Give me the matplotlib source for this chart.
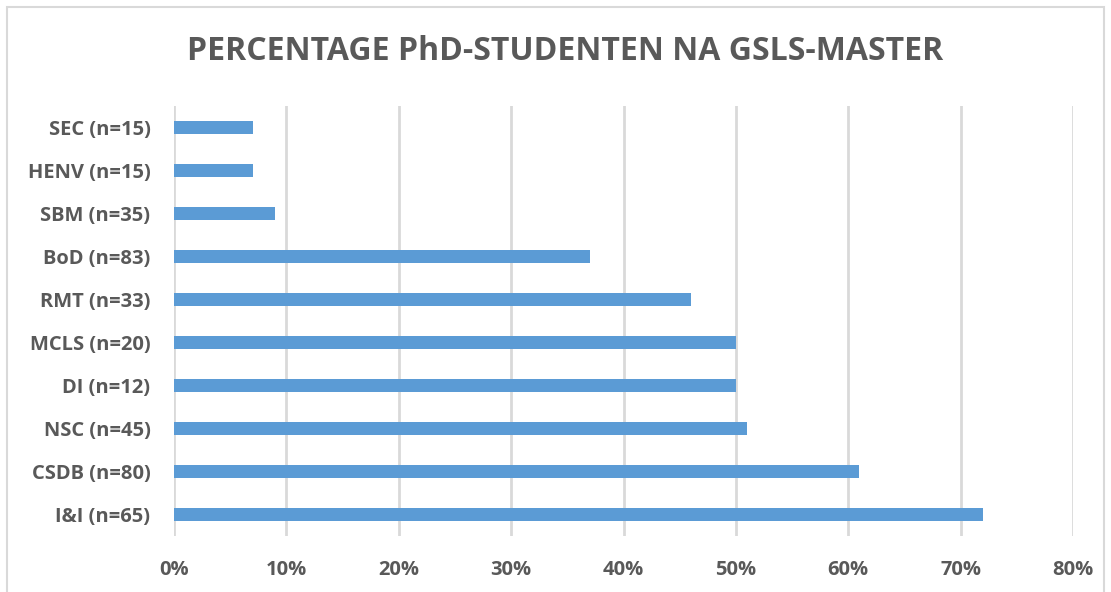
import matplotlib.pyplot as plt
from matplotlib.patches import Rectangle

# categories from bottom to top, values in percent
labels = ["I&I (n=65)", "CSDB (n=80)", "NSC (n=45)", "DI (n=12)", "MCLS (n=20)",
          "RMT (n=33)", "BoD (n=83)", "SBM (n=35)", "HENV (n=15)", "SEC (n=15)"]
values = [72, 61, 51, 50, 50, 46, 37, 9, 7, 7]
xticks = [0, 10, 20, 30, 40, 50, 60, 70, 80]

plt.rcParams['font.family'] = ['Open Sans', 'DejaVu Sans']
grey = '#595959'

fig = plt.figure(figsize=(11.11, 5.92), dpi=100)
W, H = 1111, 592
ax = fig.add_axes([174 / W, 1 - 536 / H, (1073 - 174) / W, (536 - 106) / H])

ax.barh(range(len(labels)), values, height=0.32, color='#5b9bd5', zorder=3)
ax.set_xlim(0, 80)
ax.set_ylim(-0.5, len(labels) - 0.5)
ax.set_xticks(xticks)
ax.set_xticklabels([f"{t}%" for t in xticks], fontsize=14.5, fontweight='bold', color=grey)
ax.set_yticks(range(len(labels)))
ax.set_yticklabels(labels, fontsize=14.5, fontweight='bold', color=grey)
ax.tick_params(length=0, pad=17, axis='x')
ax.tick_params(length=0, pad=17, axis='y')
ax.xaxis.grid(True, color='#d9d9d9', linewidth=2, zorder=0)
for s in ax.spines.values():
    s.set_visible(False)

fig.text(565 / W, 1 - 52 / H, "PERCENTAGE PhD-STUDENTEN NA GSLS-MASTER", ha='center', va='center',
         fontsize=23, fontweight='bold', color=grey)

# chart border
fig.patches.append(Rectangle((7 / W, -0.01), (1104 - 7) / W, 1 - 7 / H + 0.01,
                             transform=fig.transFigure, fill=False, edgecolor='#d9d9d9', linewidth=1.5))

fig.savefig('out.png', dpi=100)
